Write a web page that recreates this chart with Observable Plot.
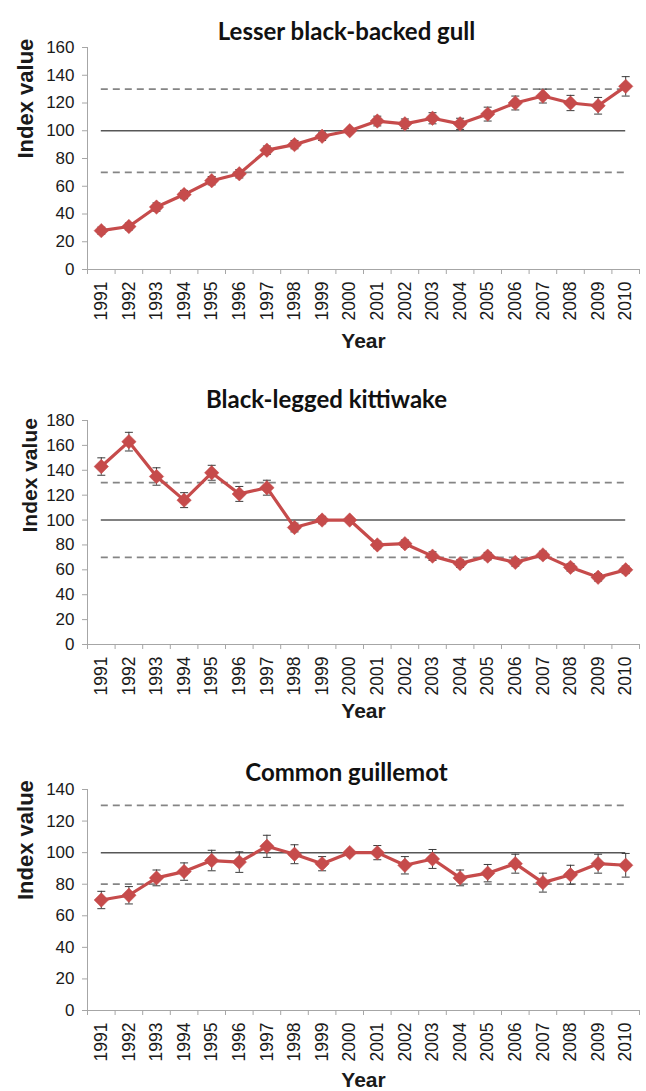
<!DOCTYPE html>
<html>
<head>
<meta charset="utf-8">
<script src="https://cdn.jsdelivr.net/npm/d3@7"></script>
<script src="https://cdn.jsdelivr.net/npm/@observablehq/plot@0.6"></script>
<style>
  body { margin: 0; background: #ffffff; }
  #chart svg { display: block; overflow: visible; }
</style>
</head>
<body>
<div id="chart"></div>
<script>
// Survey years
const years = [1991, 1992, 1993, 1994, 1995, 1996, 1997, 1998, 1999, 2000,
               2001, 2002, 2003, 2004, 2005, 2006, 2007, 2008, 2009, 2010];

// Lesser black-backed gull: index value (2000 = 100) and error half-width
const gullIndex = [28, 31, 45, 54, 64, 69, 86, 90, 96, 100, 107, 105, 109, 105, 112, 120, 125, 120, 118, 132];
const gullError = [2.5, 2.5, 3, 3, 3, 3, 3, 3, 3, 0, 3.5, 3.5, 4, 4, 5, 5, 5, 5.5, 6, 7];

// Black-legged kittiwake
const kittiwakeIndex = [143, 163, 135, 116, 138, 121, 126, 94, 100, 100, 80, 81, 71, 65, 71, 66, 72, 62, 54, 60];
const kittiwakeError = [7, 7.5, 7, 6, 6, 6, 6, 3.5, 3, 0, 3, 3, 3.5, 3, 3, 3, 3, 3, 3, 3];

// Common guillemot
const guillemotIndex = [70, 73, 84, 88, 95, 94, 104, 99, 93, 100, 100, 92, 96, 84, 87, 93, 81, 86, 93, 92];
const guillemotError = [5.5, 5.5, 5, 5.5, 6.5, 6.5, 7, 6, 4.5, 0, 4.5, 5.5, 6, 5, 5.5, 6, 6, 6, 6, 7.5];

// Reference levels: baseline and lower/upper thresholds per species
const baseline = 100;
const gullLimits = [70, 130];
const kittiwakeLimits = [70, 130];
const guillemotLimits = [80, 130];

// Y-axis maxima and tick step
const gullMax = 160;
const kittiwakeMax = 180;
const guillemotMax = 140;
const yStep = 20;

const RED = "#c64b4b";
const AXIS = "#a6a6a6";
const INK = "#1a1a1a";
const SANS = "Liberation Sans, Arial, sans-serif";

// Short horizontal stroke used as the error-bar cap
const capSymbol = {
  draw(context) {
    context.moveTo(-4, 0);
    context.lineTo(4, 0);
  }
};

function panel(cfg) {
  const rows = years.map((year, i) => ({
    year,
    value: cfg.values[i],
    lo: cfg.values[i] - cfg.errors[i],
    hi: cfg.values[i] + cfg.errors[i]
  }));
  const first = years[0];
  const last = years[years.length - 1];
  // category boundaries, where the x-axis tick marks sit
  const edges = [first - 0.5, ...years.map((y) => y + 0.5)];

  return Plot.plot({
    width: 646,
    height: cfg.height,
    marginTop: cfg.marginTop,
    marginBottom: cfg.marginBottom,
    marginLeft: 87,
    marginRight: 7,
    style: { fontFamily: SANS, overflow: "visible", background: "#fff" },
    x: { domain: [first - 0.5, last + 0.5] },
    y: { domain: [0, cfg.yMax] },
    marks: [
      // thresholds
      Plot.ruleY(cfg.limits, {
        x1: first, x2: last,
        stroke: "#858585", strokeWidth: 1.8, strokeDasharray: "7,5"
      }),
      Plot.ruleY([baseline], {
        x1: first, x2: last,
        stroke: "#575757", strokeWidth: 1.5
      }),
      // axis lines
      Plot.ruleX([first - 0.5], { stroke: AXIS }),
      Plot.ruleY([0], { stroke: AXIS }),
      Plot.axisY({
        ticks: d3.range(0, cfg.yMax + 1, yStep),
        tickSize: 5, tickPadding: 8,
        stroke: AXIS, fill: INK, fontSize: 17, label: null
      }),
      Plot.axisX({
        ticks: edges, tickSize: 5, tickFormat: () => "",
        stroke: AXIS, label: null
      }),
      Plot.axisX({
        ticks: years, tickSize: 0, tickPadding: 12, tickRotate: -90,
        tickFormat: (d) => String(d), fill: INK, fontSize: 17.5, label: null
      }),
      // error bars
      Plot.ruleX(rows, { x: "year", y1: "lo", y2: "hi", stroke: "#3d3d3d", strokeWidth: 1 }),
      Plot.dot(rows, { x: "year", y: "lo", symbol: capSymbol, stroke: "#3d3d3d", strokeWidth: 1, fill: "none" }),
      Plot.dot(rows, { x: "year", y: "hi", symbol: capSymbol, stroke: "#3d3d3d", strokeWidth: 1, fill: "none" }),
      // index series
      Plot.line(rows, { x: "year", y: "value", stroke: RED, strokeWidth: 3.2 }),
      Plot.dot(rows, { x: "year", y: "value", symbol: "diamond2", r: 6.5, fill: RED, stroke: RED, strokeWidth: 0.5 }),
      // title and axis titles
      Plot.text([cfg.title], {
        text: (d) => d, frameAnchor: "top", dx: cfg.titleDx, dy: cfg.titleDy,
        fontFamily: "Lato, sans-serif", fontWeight: "bold", fontSize: 24, fill: "#111"
      }),
      Plot.text(["Index value"], {
        text: (d) => d, frameAnchor: "left", rotate: -90, dx: cfg.yLabelDx,
        fontWeight: "bold", fontSize: cfg.yLabelSize, fill: INK
      }),
      Plot.text(["Year"], {
        text: (d) => d, frameAnchor: "bottom", dy: cfg.xLabelDy,
        fontWeight: "bold", fontSize: 21, fill: INK
      })
    ]
  });
}

const chart = document.getElementById("chart");

chart.append(panel({
  title: "Lesser black-backed gull",
  values: gullIndex, errors: gullError, limits: gullLimits, yMax: gullMax,
  height: 365, marginTop: 47, marginBottom: 96,
  titleDx: -17, titleDy: -25, yLabelDx: -62, yLabelSize: 22, xLabelDy: 78
}));

chart.append(panel({
  title: "Black-legged kittiwake",
  values: kittiwakeIndex, errors: kittiwakeError, limits: kittiwakeLimits, yMax: kittiwakeMax,
  height: 375, marginTop: 55, marginBottom: 96,
  titleDx: -37, titleDy: -30, yLabelDx: -57, yLabelSize: 21, xLabelDy: 73
}));

chart.append(panel({
  title: "Common guillemot",
  values: guillemotIndex, errors: guillemotError, limits: guillemotLimits, yMax: guillemotMax,
  height: 351, marginTop: 49, marginBottom: 81,
  titleDx: -17, titleDy: -26, yLabelDx: -62, yLabelSize: 22, xLabelDy: 76
}));
</script>
</body>
</html>
